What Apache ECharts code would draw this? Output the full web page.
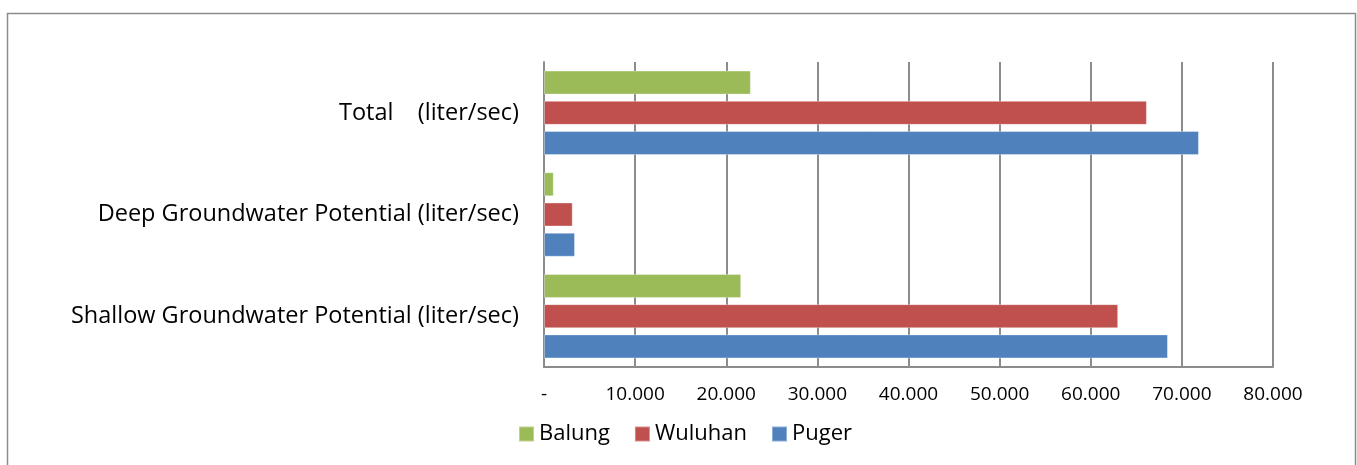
<!DOCTYPE html>
<html>
<head>
<meta charset="utf-8">
<script src="https://cdn.jsdelivr.net/npm/echarts@6/dist/echarts.min.js"></script>
<style>
  html, body { margin: 0; padding: 0; background: #fff; }
  #main { width: 1357px; height: 465px; }
</style>
</head>
<body>
<div id="main"></div>
<script>
// categories bottom to top
var categories = [
  'Shallow Groundwater Potential (liter/sec)',
  'Deep Groundwater Potential (liter/sec)',
  'Total    (liter/sec)'
];
var balung = [21640, 1070, 22700];
var wuluhan = [63010, 3150, 66160];
var puger = [68470, 3400, 71870];

var myChart = echarts.init(document.getElementById('main'));

function fmt(v) {
  if (v === 0) return '-';
  return String(v).replace(/\B(?=(\d{3})+(?!\d))/g, '.');
}

var font = 'Open Sans';
var barStyle = function (c) {
  return { color: c, borderColor: 'rgba(255,255,255,0.35)', borderWidth: 1 };
};

myChart.setOption({
  animation: false,
  textStyle: { fontFamily: font },
  graphic: [{
    type: 'rect',
    shape: { x: 7.5, y: 13.5, width: 1348, height: 470 },
    style: { fill: 'none', stroke: '#8c8c8c', lineWidth: 1.5 }
  }],
  legend: {
    bottom: 15,
    left: 513,
    itemWidth: 15,
    itemHeight: 15,
    itemGap: 24,
    icon: 'rect',
    textStyle: { fontSize: 22, color: '#000', fontFamily: font },
    data: ['Balung', 'Wuluhan', 'Puger']
  },
  grid: { left: 544, right: 84, top: 62, bottom: 98 },
  xAxis: {
    type: 'value',
    min: 0,
    max: 80000,
    interval: 10000,
    axisLine: { show: true, lineStyle: { color: '#8c8c8c', width: 2 } },
    axisTick: { show: false },
    splitLine: { lineStyle: { color: '#8c8c8c', width: 2 } },
    axisLabel: { color: '#000', fontSize: 19, margin: 18, formatter: fmt }
  },
  yAxis: {
    type: 'category',
    data: categories,
    axisLine: { lineStyle: { color: '#8c8c8c', width: 2 } },
    axisTick: { show: false },
    axisLabel: { color: '#000', fontSize: 23.5, margin: 25 }
  },
  series: [
    { name: 'Balung', type: 'bar', data: balung, barWidth: 24, barGap: '26%', itemStyle: barStyle('#9bbb59') },
    { name: 'Wuluhan', type: 'bar', data: wuluhan, barWidth: 24, barGap: '26%', itemStyle: barStyle('#c0504d') },
    { name: 'Puger', type: 'bar', data: puger, barWidth: 24, barGap: '26%', itemStyle: barStyle('#4f81bd') }
  ]
});
</script>
</body>
</html>
